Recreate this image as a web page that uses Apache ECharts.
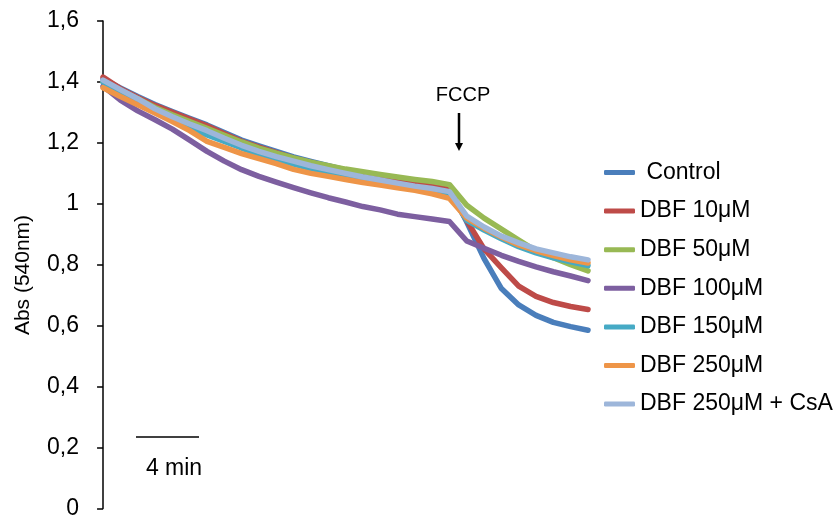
<!DOCTYPE html>
<html>
<head>
<meta charset="utf-8">
<script src="https://cdn.jsdelivr.net/npm/echarts@6/dist/echarts.min.js"></script>
<style>
html,body{margin:0;padding:0;background:#fff;}
#chart{width:838px;height:520px;}
</style>
</head>
<body>
<div id="chart"></div>
<script>
// time index (points, ~1 per minute); FCCP added at index 20
const timeIdx = [0,1,2,3,4,5,6,7,8,9,10,11,12,13,14,15,16,17,18,19,20,21,22,23,24,25,26,27,28];
const seriesNames = [' Control','DBF 10μM','DBF 50μM','DBF 100μM','DBF 150μM','DBF 250μM','DBF 250μM + CsA'];
const control = [1.410,1.380,1.352,1.326,1.303,1.281,1.259,1.234,1.209,1.190,1.172,1.154,1.139,1.125,1.111,1.099,1.090,1.080,1.070,1.059,1.049, 0.940,0.820,0.722,0.668,0.634,0.611,0.597,0.585];
const dbf10 = [1.416,1.378,1.349,1.323,1.300,1.278,1.256,1.230,1.205,1.186,1.168,1.150,1.136,1.122,1.108,1.096,1.088,1.079,1.069,1.058,1.048, 0.945,0.852,0.790,0.730,0.696,0.676,0.663,0.653];
const dbf50 = [1.400,1.372,1.345,1.316,1.292,1.270,1.248,1.225,1.203,1.183,1.166,1.151,1.137,1.125,1.114,1.105,1.096,1.088,1.080,1.073,1.063, 0.995,0.953,0.917,0.881,0.846,0.823,0.800,0.780];
const dbf100 = [1.386,1.340,1.305,1.276,1.245,1.209,1.172,1.140,1.112,1.090,1.071,1.053,1.036,1.020,1.006,0.991,0.980,0.966,0.958,0.950,0.942, 0.878,0.854,0.831,0.811,0.793,0.777,0.763,0.748];
const dbf150 = [1.400,1.366,1.335,1.302,1.276,1.250,1.226,1.205,1.183,1.163,1.146,1.130,1.116,1.104,1.093,1.082,1.072,1.062,1.053,1.045,1.035, 0.946,0.914,0.885,0.859,0.839,0.823,0.810,0.797];
const dbf250 = [1.381,1.352,1.325,1.298,1.270,1.240,1.205,1.185,1.165,1.148,1.132,1.113,1.100,1.090,1.080,1.070,1.062,1.053,1.044,1.033,1.018, 0.953,0.920,0.891,0.865,0.846,0.830,0.816,0.806];
const dbf250csa = [1.406,1.375,1.345,1.312,1.286,1.262,1.240,1.215,1.192,1.172,1.155,1.140,1.125,1.112,1.100,1.088,1.078,1.068,1.058,1.050,1.040, 0.960,0.924,0.894,0.872,0.852,0.839,0.826,0.816];
const colors = ['#4A7EBB','#BE4B48','#98B954','#7D5FA0','#46AAC5','#EE9548','#9DB6DA'];
const yTicks = ['0','0,2','0,4','0,6','0,8','1','1,2','1,4','1,6'];

const allData = [control, dbf10, dbf50, dbf100, dbf150, dbf250, dbf250csa];
const FONT = '"Liberation Sans", Arial, sans-serif';

const chart = echarts.init(document.getElementById('chart'));
chart.setOption({
  animation: false,
  backgroundColor: '#fff',
  grid: {left: 97, right: 250, top: 21, bottom: 7, containLabel: false},
  xAxis: {type: 'value', min: -0.35, max: 28, show: false},
  yAxis: {
    type: 'value', min: 0, max: 1.6, interval: 0.2,
    axisLine: {show: true, lineStyle: {color: '#000', width: 1.5}},
    axisTick: {show: true, inside: false, length: 6, lineStyle: {color: '#000', width: 1.5}},
    splitLine: {show: false},
    axisLabel: {
      margin: 18, color: '#000', fontSize: 23, fontFamily: FONT,
      formatter: function (v) { return yTicks[Math.round(v / 0.2)]; }
    }
  },
  legend: {
    orient: 'vertical', left: 599, top: 155.5,
    itemWidth: 31, itemHeight: 5, itemGap: 14.6,
    icon: 'roundRect',
    textStyle: {color: '#000', fontSize: 23, fontFamily: FONT, lineHeight: 24},
    data: seriesNames
  },
  series: seriesNames.map(function (name, k) {
    return {
      name: name, type: 'line', showSymbol: false, symbol: 'none',
      color: colors[k],
      lineStyle: {width: 5.5, color: colors[k], cap: 'round', join: 'round'},
      data: timeIdx.map(function (t, i) { return [t, allData[k][i]]; })
    };
  }),
  graphic: [
    {type: 'text', rotation: Math.PI / 2, x: 23, y: 275,
     style: {text: 'Abs (540nm)', fill: '#000', fontSize: 21, fontFamily: FONT, textAlign: 'center', textVerticalAlign: 'middle'}},
    {type: 'text', x: 463, y: 95,
     style: {text: 'FCCP', fill: '#000', fontSize: 20, fontFamily: FONT, textAlign: 'center', textVerticalAlign: 'middle'}},
    {type: 'line', shape: {x1: 459, y1: 113, x2: 459, y2: 145}, style: {stroke: '#000', lineWidth: 2.5}},
    {type: 'polygon', shape: {points: [[455, 143], [463, 143], [459, 151]]}, style: {fill: '#000'}},
    {type: 'line', shape: {x1: 136, y1: 437, x2: 199, y2: 437}, style: {stroke: '#000', lineWidth: 1.5}},
    {type: 'text', x: 174, y: 469,
     style: {text: '4 min', fill: '#000', fontSize: 23, fontFamily: FONT, textAlign: 'center', textVerticalAlign: 'middle'}}
  ]
});
</script>
</body>
</html>
